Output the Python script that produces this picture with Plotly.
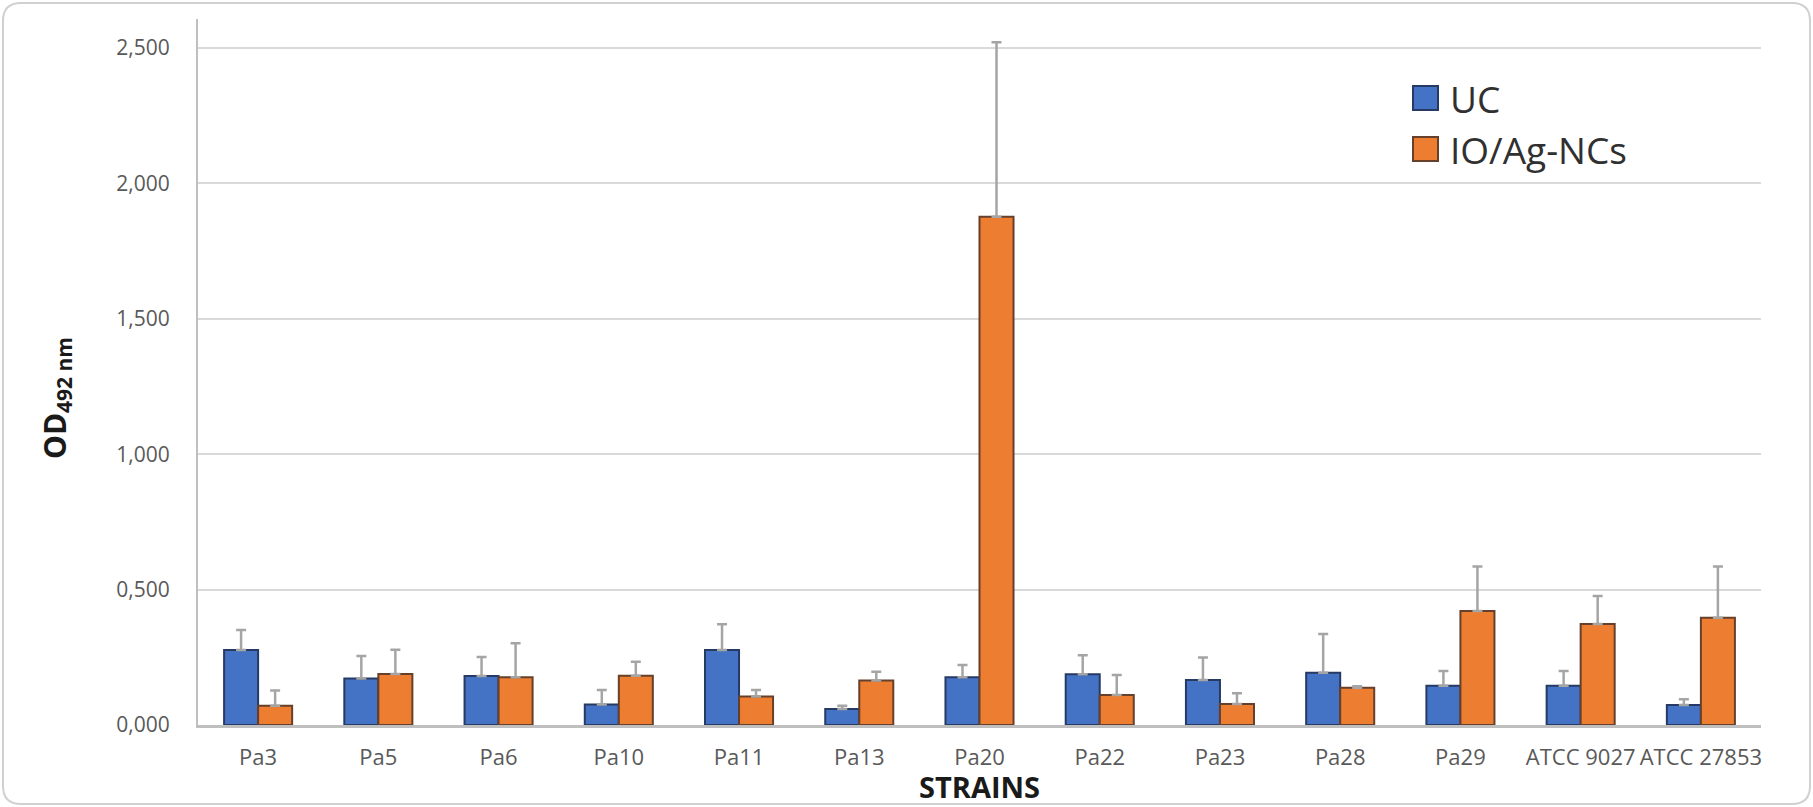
import plotly.graph_objects as go

# ---- data ----
strains = ["Pa3", "Pa5", "Pa6", "Pa10", "Pa11", "Pa13", "Pa20", "Pa22",
           "Pa23", "Pa28", "Pa29", "ATCC 9027", "ATCC 27853"]
uc_values = [0.277, 0.172, 0.181, 0.076, 0.277, 0.059, 0.176, 0.187,
             0.166, 0.193, 0.145, 0.145, 0.074]
uc_errors = [0.074, 0.083, 0.070, 0.053, 0.095, 0.012, 0.046, 0.071,
             0.083, 0.143, 0.054, 0.054, 0.021]
io_values = [0.071, 0.188, 0.176, 0.182, 0.105, 0.164, 1.877, 0.111,
             0.078, 0.138, 0.421, 0.373, 0.396]
io_errors = [0.056, 0.090, 0.126, 0.052, 0.024, 0.033, 0.644, 0.074,
             0.039, 0.005, 0.164, 0.103, 0.189]
series_names = ["UC", "IO/Ag-NCs"]
y_tick_vals = [0.0, 0.5, 1.0, 1.5, 2.0, 2.5]
y_tick_text = ["0,000", "0,500", "1,000", "1,500", "2,000", "2,500"]

# ---- layout geometry (pixels) ----
W, H = 1813, 807
L, R, T, B = 198, 52, 19, 82
PW, PH = W - L - R, H - T - B


def px_x(px):
    return (px - L) / PW


def px_y(py):
    return (H - B - py) / PH


FONT = "Open Sans"
BLUE, ORANGE = "#4472C4", "#ED7D31"
BLUE_EDGE, ORANGE_EDGE = "#263a63", "#66402a"

fig = go.Figure()
fig.add_trace(go.Bar(
    x=strains, y=uc_values, name=series_names[0],
    marker=dict(color=BLUE, line=dict(color=BLUE_EDGE, width=2)),
    error_y=dict(type="data", symmetric=False, array=uc_errors,
                 arrayminus=[0] * len(uc_errors),
                 color="#A5A5A5", thickness=2.5, width=5),
    showlegend=False,
))
fig.add_trace(go.Bar(
    x=strains, y=io_values, name=series_names[1],
    marker=dict(color=ORANGE, line=dict(color=ORANGE_EDGE, width=2)),
    error_y=dict(type="data", symmetric=False, array=io_errors,
                 arrayminus=[0] * len(io_errors),
                 color="#A5A5A5", thickness=2.5, width=5),
    showlegend=False,
))

# frame with rounded corners
x0, y0, x1, y1, r = px_x(3), px_y(3), px_x(1810), px_y(804), 18
rx, ry = r / PW, r / PH
path = (f"M {x0+rx},{y0} L {x1-rx},{y0} Q {x1},{y0} {x1},{y0-ry} "
        f"L {x1},{y1+ry} Q {x1},{y1} {x1-rx},{y1} "
        f"L {x0+rx},{y1} Q {x0},{y1} {x0},{y1+ry} "
        f"L {x0},{y0-ry} Q {x0},{y0} {x0+rx},{y0} Z")
shapes = [dict(type="path", path=path, xref="paper", yref="paper",
               line=dict(color="#D0D0D0", width=2), layer="below")]

annotations = []
# custom legend
for name, color, lcol, cy in [(series_names[0], BLUE, BLUE_EDGE, 98),
                              (series_names[1], ORANGE, ORANGE_EDGE, 149)]:
    shapes.append(dict(type="rect", xref="paper", yref="paper",
                       x0=px_x(1413), x1=px_x(1438), y0=px_y(cy - 12), y1=px_y(cy + 12),
                       fillcolor=color, line=dict(color=lcol, width=2)))
    annotations.append(dict(text=name, xref="paper", yref="paper",
                            x=px_x(1448), y=px_y(cy), xanchor="left", yanchor="middle",
                            showarrow=False, font=dict(family=FONT, size=37, color="#303030")))

# axis titles
annotations.append(dict(text="<b>STRAINS</b>", xref="paper", yref="paper",
                        x=0.5, y=px_y(786), xanchor="center", yanchor="middle",
                        showarrow=False, font=dict(family=FONT, size=29, color="#1a1a1a")))
annotations.append(dict(text="<b>OD<sub>492 nm</sub></b>", xref="paper", yref="paper",
                        x=px_x(56), y=px_y(398), xanchor="center", yanchor="middle",
                        textangle=-90, showarrow=False,
                        font=dict(family=FONT, size=30, color="#1a1a1a")))

fig.update_layout(
    width=W, height=H,
    margin=dict(l=L, r=R, t=T, b=B, pad=0),
    paper_bgcolor="white", plot_bgcolor="white",
    barmode="group", bargap=0.434, bargroupgap=0,
    shapes=shapes, annotations=annotations,
    font=dict(family=FONT, color="#595959"),
)
fig.update_xaxes(
    type="category", tickangle=0, showgrid=False,
    showline=True, linecolor="#BFBFBF", linewidth=3,
    ticks="", ticklabelstandoff=11,
    tickfont=dict(family=FONT, size=22, color="#595959"),
)
fig.update_yaxes(
    range=[0, 2.607], tickvals=y_tick_vals, ticktext=y_tick_text,
    showgrid=True, gridcolor="#D9D9D9", gridwidth=2,
    zeroline=False, showline=True, linecolor="#BFBFBF", linewidth=2,
    ticks="", ticklabelstandoff=22,
    tickfont=dict(family=FONT, size=21, color="#595959"),
)

fig.write_html("out.html", config={"displayModeBar": False},
               post_script="document.body.style.margin='0px';")
